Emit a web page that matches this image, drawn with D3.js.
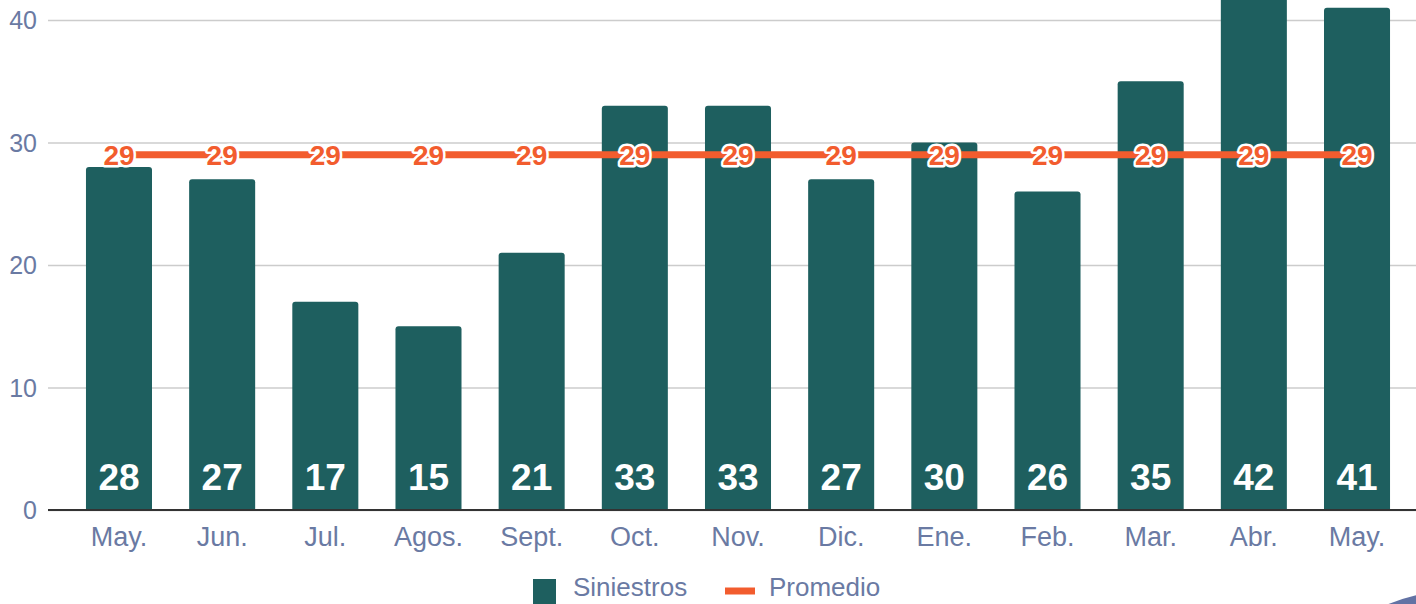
<!DOCTYPE html>
<html>
<head>
<meta charset="utf-8">
<script src="https://cdn.jsdelivr.net/npm/d3@7"></script>
<style>
  body { margin: 0; background: #fff; }
  svg { display: block; font-family: "Liberation Sans", Arial, sans-serif; }
</style>
</head>
<body>
<div id="chart"></div>
<script>
// Data
const months = ["May.", "Jun.", "Jul.", "Agos.", "Sept.", "Oct.", "Nov.", "Dic.", "Ene.", "Feb.", "Mar.", "Abr.", "May."];
const siniestros = [28, 27, 17, 15, 21, 33, 33, 27, 30, 26, 35, 42, 41];
const promedio = [29, 29, 29, 29, 29, 29, 29, 29, 29, 29, 29, 29, 29];
const yTicks = [0, 10, 20, 30, 40];

const width = 1416;
const height = 604;
const tickColor = "#6a7aa3";
const barColor = "#1e5f5f";
const lineColor = "#f25c2e";

const svg = d3.select("#chart")
  .append("svg")
    .attr("width", width)
    .attr("height", height)
    .attr("viewBox", [0, 0, width, height]);

// X scale (index based, "May." appears twice)
const xScale = d3.scaleBand()
  .domain(d3.range(months.length))
  .range([67.4, 1408.6])
  .paddingInner(0.36)
  .paddingOuter(0.18);

// Y scale
const yScale = d3.scaleLinear()
  .domain([0, 40])
  .range([510, 20]);

// Gridlines + y labels
const leftAxis = d3.axisLeft(yScale)
  .tickValues(yTicks)
  .tickSize(-(width - 48))
  .tickPadding(11)
  .tickFormat(d3.format("d"));
const yAxis = svg.append("g")
  .attr("class", "axis axis-y")
  .attr("transform", "translate(48, 0)")
  .call(leftAxis);
yAxis.select(".domain").remove();
yAxis.selectAll(".tick line")
  .attr("stroke", "#cccccc")
  .attr("stroke-width", 1.5);
yAxis.selectAll(".tick text")
  .attr("fill", tickColor)
  .style("font-size", "25px")
  .attr("dy", "0.35em");

// Bars (rounded top)
const r = 3;
svg.append("g")
  .selectAll("path.bar")
  .data(siniestros)
  .join("path")
    .attr("class", "bar")
    .attr("fill", barColor)
    .attr("d", (d, i) => {
      const x0 = xScale(i), x1 = x0 + xScale.bandwidth();
      const y0 = yScale(0), y1 = yScale(d);
      return `M${x0},${y0}V${y1 + r}Q${x0},${y1} ${x0 + r},${y1}H${x1 - r}Q${x1},${y1} ${x1},${y1 + r}V${y0}Z`;
    });

// Baseline
const bottomAxis = d3.axisBottom(xScale)
  .tickSize(0)
  .tickPadding(17)
  .tickFormat(i => months[i]);
const xAxis = svg.append("g")
  .attr("class", "axis axis-x")
  .attr("transform", `translate(0, ${yScale(0)})`)
  .call(bottomAxis);
xAxis.select(".domain").remove();
xAxis.append("line")
  .attr("x1", 48)
  .attr("x2", width)
  .attr("stroke", "#333")
  .attr("stroke-width", 2);
xAxis.selectAll(".tick text")
  .attr("fill", tickColor)
  .style("font-size", "27px");

// Bar value labels
svg.append("g")
  .selectAll("text")
  .data(siniestros)
  .join("text")
    .text(d => d)
    .attr("x", (d, i) => xScale(i) + xScale.bandwidth() / 2)
    .attr("y", yScale(0) - 20)
    .attr("text-anchor", "middle")
    .attr("fill", "#fff")
    .style("font-size", "37px")
    .style("font-weight", 700);

// Average line
const lineGenerator = d3.line()
  .x((d, i) => xScale(i) + xScale.bandwidth() / 2)
  .y(d => yScale(d));
svg.append("path")
  .attr("d", lineGenerator(promedio))
  .attr("fill", "none")
  .attr("stroke", lineColor)
  .attr("stroke-width", 7);

svg.append("g")
  .selectAll("text")
  .data(promedio)
  .join("text")
    .text(d => d)
    .attr("x", (d, i) => xScale(i) + xScale.bandwidth() / 2)
    .attr("y", d => yScale(d))
    .attr("dy", "0.36em")
    .attr("text-anchor", "middle")
    .attr("fill", lineColor)
    .attr("stroke", "#fff")
    .attr("stroke-width", 5)
    .attr("stroke-linejoin", "round")
    .attr("paint-order", "stroke")
    .style("font-size", "28px")
    .style("font-weight", 700);

// Legend
const legend = svg.append("g").attr("transform", "translate(533, 588)");
legend.append("rect")
  .attr("x", 0).attr("y", -9)
  .attr("width", 23).attr("height", 25)
  .attr("fill", barColor);
legend.append("text")
  .text("Siniestros")
  .attr("x", 40).attr("dy", "0.3em")
  .attr("fill", tickColor)
  .style("font-size", "26px");
legend.append("line")
  .attr("x1", 192).attr("x2", 222)
  .attr("y1", 3).attr("y2", 3)
  .attr("stroke", lineColor)
  .attr("stroke-width", 7);
legend.append("text")
  .text("Promedio")
  .attr("x", 236).attr("dy", "0.3em")
  .attr("fill", tickColor)
  .style("font-size", "26px");

// Corner decoration
svg.append("circle")
  .attr("cx", 1462).attr("cy", 790).attr("r", 200)
  .attr("fill", "#6272a4");
</script>
</body>
</html>
